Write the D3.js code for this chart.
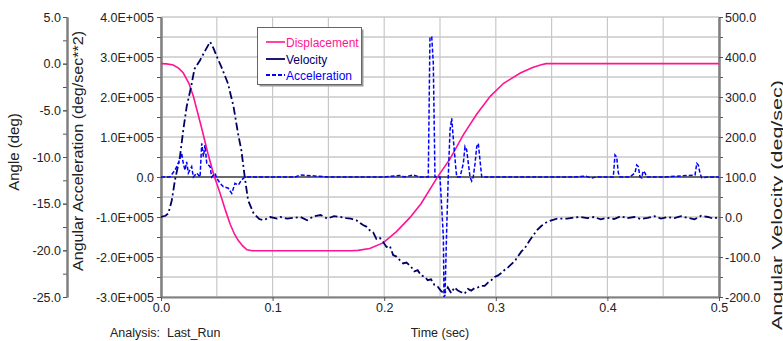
<!DOCTYPE html>
<html><head><meta charset="utf-8">
<script src="https://cdn.jsdelivr.net/npm/d3@7"></script>
<style>body{margin:0;background:#fff;} svg{display:block;font-family:"Liberation Sans",Arial,sans-serif;}</style>
</head><body><svg id="c" width="783" height="341"></svg>
<script>
// ---------- data ----------
const seriesNames = ["Displacement", "Velocity", "Acceleration"];

const dispTime = [0, 0.005, 0.011, 0.016, 0.020, 0.025, 0.029, 0.036, 0.042, 0.047, 0.053, 0.058, 0.062, 0.066, 0.069, 0.073, 0.077, 0.082, 0.10, 0.15, 0.170, 0.1765, 0.187, 0.199, 0.211, 0.223, 0.233, 0.248, 0.259, 0.271, 0.283, 0.295, 0.307, 0.322, 0.333, 0.340, 0.345, 0.40, 0.45, 0.5];
const dispAngle = [0, -0.02, -0.14, -0.5, -1.0, -2.1, -3.5, -6.7, -9.6, -11.8, -13.9, -15.8, -17.2, -18.3, -18.9, -19.5, -19.95, -20.05, -20.05, -20.05, -20.05, -20.0, -19.8, -19.2, -18.0, -16.5, -15.0, -12.1, -10.2, -7.6, -5.4, -3.5, -2.1, -1.0, -0.4, -0.15, 0.0, 0.0, 0.0, 0.0];

const velTime = [
  0, 0.004, 0.0066, 0.0097, 0.0125, 0.017, 0.020, 0.023, 0.027, 0.030,
  0.035, 0.039, 0.044, 0.047, 0.050, 0.054, 0.060, 0.065, 0.069, 0.072,
  0.075, 0.078, 0.083, 0.088, 0.092, 0.098, 0.104, 0.107, 0.113, 0.119,
  0.125, 0.131, 0.137, 0.143, 0.149, 0.155, 0.161, 0.166, 0.170, 0.175,
  0.181, 0.184, 0.187, 0.190, 0.193, 0.196, 0.199, 0.202, 0.205, 0.208,
  0.211, 0.214, 0.217, 0.220, 0.224, 0.227, 0.230, 0.233, 0.236, 0.239,
  0.242, 0.245, 0.248, 0.251, 0.254, 0.257, 0.260, 0.263, 0.266, 0.269,
  0.272, 0.275, 0.278, 0.281, 0.284, 0.287, 0.290, 0.293, 0.296, 0.299,
  0.302, 0.305, 0.308, 0.311, 0.314, 0.317, 0.320, 0.323, 0.326, 0.330,
  0.333, 0.337, 0.341, 0.346, 0.355, 0.364, 0.370, 0.376, 0.382, 0.388,
  0.394, 0.400, 0.406, 0.412, 0.418, 0.424, 0.430, 0.436, 0.442, 0.448,
  0.454, 0.460, 0.466, 0.472, 0.478, 0.484, 0.490, 0.495, 0.5];
const velValue = [
  0, 3, 9, 42, 92, 151, 218, 276, 326, 370,
  392, 413, 438, 422, 401, 376, 334, 276, 209, 167,
  101, 42, 9, -5, -8, 0, -4, 0, -4, -2,
  0, -8, 2, 5, -4, 2, 0, -3, -4, -8,
  -20, -24, -33, -38, -55, -52, -62, -75, -72, -95,
  -99, -108, -116, -114, -124, -136, -133, -146, -149, -158,
  -156, -170, -174, -185, -192, -176, -190, -176, -184, -188,
  -192, -180, -184, -178, -176, -172, -172, -164, -158, -150,
  -146, -140, -132, -126, -118, -110, -98, -86, -78, -60,
  -48, -33, -22, -12, -4, -4, -1, 0, -3, 0,
  -6, -2, -5, 2, -3, 0, -5, -2, 2, -4,
  0, -3, 2, -2, -6, 3, 0, -4, 0];

const accTime = [0, 0.008, 0.0125, 0.0155, 0.0185, 0.020, 0.0215, 0.023, 0.0245, 0.0275, 0.029, 0.032, 0.035, 0.0365, 0.038, 0.0394, 0.041, 0.044, 0.0454, 0.0484, 0.050, 0.053, 0.0558, 0.0603, 0.0634, 0.0663, 0.0693, 0.0723, 0.0753, 0.09, 0.12, 0.125, 0.15, 0.18, 0.20, 0.214, 0.218, 0.226, 0.232, 0.2395, 0.2410, 0.2426, 0.2440, 0.2455, 0.250, 0.253, 0.2536, 0.2545, 0.256, 0.2574, 0.259, 0.2605, 0.262, 0.2643, 0.265, 0.268, 0.2709, 0.2724, 0.2739, 0.2754, 0.2769, 0.2784, 0.2798, 0.2814, 0.2829, 0.2843, 0.2858, 0.2874, 0.30, 0.33, 0.37, 0.381, 0.3855, 0.39, 0.4053, 0.4068, 0.4083, 0.4098, 0.4113, 0.42, 0.4247, 0.4263, 0.4277, 0.4292, 0.4307, 0.4321, 0.4337, 0.4352, 0.45, 0.4785, 0.4801, 0.4815, 0.483, 0.4845, 0.49, 0.5];
const accValue = [0, 0, 17000, 34000, 59000, 34000, 17000, 38000, 10000, 26000, 0, 10000, 0, 84000, 51000, 80000, 34000, 26000, 0, 9000, -3000, -16000, -24000, -28000, -41000, -16000, -20000, -7000, 0, 0, 0, 5000, 0, 0, 0, 4000, 0, 5000, 0, 0, 350000, 350000, 284000, 0, 0, -150000, -300000, -295000, -130000, 0, 118000, 147000, 93000, 18000, 0, 0, 34000, 76000, 68000, 34000, 0, -10000, 0, 34000, 76000, 84000, 43000, 0, 0, 0, 0, 2000, -3000, 0, 0, 55000, 50000, 10000, 0, 0, 10000, 30000, 26000, 0, -2000, 15000, 10000, 0, 0, 5000, 34000, 30000, 9000, -2000, 0, 0];

const timeTicks = [0, 0.1, 0.2, 0.3, 0.4, 0.5];
const timeLabels = ["0.0", "0.1", "0.2", "0.3", "0.4", "0.5"];
const angleTicks = [5, 0, -5, -10, -15, -20, -25];
const angleLabels = ["5.0", "0.0", "-5.0", "-10.0", "-15.0", "-20.0", "-25.0"];
const accTicks = [400000, 300000, 200000, 100000, 0, -100000, -200000, -300000];
const accLabels = ["4.0E+005", "3.0E+005", "2.0E+005", "1.0E+005", "0.0", "-1.0E+005", "-2.0E+005", "-3.0E+005"];
const velTicks = [500, 400, 300, 200, 100, 0, -100, -200];
const velLabels = ["500.0", "400.0", "300.0", "200.0", "100.0", "0.0", "-100.0", "-200.0"];

// ---------- drawing ----------
const svg = d3.select("#c");
const L = 161, R = 719, T = 17, B = 297;
const x = d3.scaleLinear().domain([0, 0.5]).range([L, R]);
const yAcc = d3.scaleLinear().domain([-300000, 400000]).range([B, T]);
const yAng = d3.scaleLinear().domain([-25, 5]).range([B, T]);
const yVel = d3.scaleLinear().domain([-200, 500]).range([B, T]);

const colDisp = "#ff1493", colVel = "#000066", colAcc = "#0000ff";
const labelColor = "#222";

// grid
const g = svg.append("g");
g.selectAll(".hg").data(d3.range(-300000, 400001, 50000)).enter().append("line")
  .attr("x1", L).attr("x2", R).attr("y1", d => yAcc(d)).attr("y2", d => yAcc(d))
  .attr("stroke", "#d6d6d6").attr("stroke-width", 2);
g.selectAll(".vg").data(d3.range(0, 0.5001, 0.05)).enter().append("line")
  .attr("x1", d => x(d)).attr("x2", d => x(d)).attr("y1", T).attr("y2", B)
  .attr("stroke", "#c8c8c8").attr("stroke-width", 1.2);
g.append("line").attr("x1", L).attr("x2", R).attr("y1", yAcc(0)).attr("y2", yAcc(0))
  .attr("stroke", "#000").attr("stroke-width", 1);

function styleAxis(sel) {
  sel.select(".domain").attr("stroke", "#808080").attr("stroke-width", 2);
  sel.selectAll(".tick line").attr("stroke", "#555");
  sel.selectAll("text").attr("fill", labelColor).style("font-size", "12.5px")
    .style("font-family", "'Liberation Sans', Arial, sans-serif");
}

// angle axis (far left)
svg.append("g").attr("transform", "translate(67,0)")
  .call(d3.axisLeft(yAng).tickValues(d3.range(-25, 5.01, 2.5)).tickFormat("").tickSize(4).tickSizeOuter(0))
  .call(styleAxis);
svg.append("g").attr("transform", "translate(67,0)")
  .call(d3.axisLeft(yAng).tickValues(angleTicks).tickFormat((d, i) => angleLabels[i]).tickSize(4).tickSizeOuter(0).tickPadding(2))
  .call(styleAxis);

// acceleration axis
svg.append("g").attr("transform", `translate(${L},0)`)
  .call(d3.axisLeft(yAcc).tickValues(d3.range(-300000, 400001, 50000)).tickFormat("").tickSize(4).tickSizeOuter(0))
  .call(styleAxis);
svg.append("g").attr("transform", `translate(${L},0)`)
  .call(d3.axisLeft(yAcc).tickValues(accTicks).tickFormat((d, i) => accLabels[i]).tickSize(4).tickSizeOuter(0).tickPadding(3))
  .call(styleAxis);

// velocity axis (right)
svg.append("g").attr("transform", `translate(${R},0)`)
  .call(d3.axisRight(yVel).tickValues(d3.range(-200, 500.1, 50)).tickFormat("").tickSize(4).tickSizeOuter(0))
  .call(styleAxis);
svg.append("g").attr("transform", `translate(${R},0)`)
  .call(d3.axisRight(yVel).tickValues(velTicks).tickFormat((d, i) => velLabels[i]).tickSize(4).tickSizeOuter(0).tickPadding(2))
  .call(styleAxis);

// time axis
svg.append("g").attr("transform", `translate(0,${B})`)
  .call(d3.axisBottom(x).tickValues(timeTicks).tickFormat((d, i) => timeLabels[i]).tickSize(4).tickSizeOuter(0).tickPadding(2))
  .call(styleAxis);

// titles
const fontFam = "'Liberation Sans', Arial, sans-serif";
svg.append("text").attr("transform", "translate(19,152) rotate(-90)").attr("text-anchor", "middle")
  .style("font-size", "15px").style("font-family", fontFam).attr("fill", labelColor).text("Angle (deg)");
svg.append("text").attr("transform", "translate(83,151) rotate(-90)").attr("text-anchor", "middle")
  .attr("textLength", 240).attr("lengthAdjust", "spacingAndGlyphs")
  .style("font-size", "15px").style("font-family", fontFam).attr("fill", labelColor).text("Angular Acceleration (deg/sec**2)");
svg.append("text").attr("transform", "translate(782,205) rotate(-90)").attr("text-anchor", "middle")
  .attr("textLength", 250).attr("lengthAdjust", "spacingAndGlyphs")
  .style("font-size", "14px").style("font-family", fontFam).attr("fill", labelColor).text("Angular Velocity (deg/sec)");
svg.append("text").attr("x", 110).attr("y", 337).style("font-size", "12.5px").style("font-family", fontFam)
  .attr("fill", labelColor).attr("xml:space", "preserve").text("Analysis:  Last_Run");
svg.append("text").attr("x", 440).attr("y", 337).attr("text-anchor", "middle").style("font-size", "12.5px")
  .style("font-family", fontFam).attr("fill", labelColor).text("Time (sec)");

// series
svg.append("clipPath").attr("id", "clip").append("rect").attr("x", L).attr("y", T - 2).attr("width", R - L).attr("height", B - T + 4);
const plot = svg.append("g").attr("clip-path", "url(#clip)");

const lineDisp = d3.line().x((d, i) => x(dispTime[i])).y(d => yAng(d));
const lineVel = d3.line().x((d, i) => x(velTime[i])).y(d => yVel(d));
const lineAcc = d3.line().x((d, i) => x(accTime[i])).y(d => yAcc(d));

plot.append("path").attr("d", lineDisp(dispAngle)).attr("fill", "none").attr("stroke", colDisp).attr("stroke-width", 1.6);
plot.append("path").attr("d", lineVel(velValue)).attr("fill", "none").attr("stroke", colVel).attr("stroke-width", 1.8)
  .attr("stroke-dasharray", "8,3,2,3");
plot.append("path").attr("d", lineAcc(accValue)).attr("fill", "none").attr("stroke", colAcc).attr("stroke-width", 1.5)
  .attr("stroke-dasharray", "4,2");

// legend
const lg = svg.append("g");
lg.append("rect").attr("x", 259.5).attr("y", 29.5).attr("width", 104).attr("height", 57).attr("fill", "#999");
lg.append("rect").attr("x", 257.5).attr("y", 27.5).attr("width", 104).attr("height", 57).attr("fill", "#fff").attr("stroke", "#666");
const legCols = [colDisp, colVel, colAcc];
const legDash = [null, null, "4,2"];
const legY = [42, 59, 75];
seriesNames.forEach((n, i) => {
  lg.append("line").attr("x1", 266).attr("x2", 285).attr("y1", legY[i]).attr("y2", legY[i])
    .attr("stroke", legCols[i]).attr("stroke-width", i === 0 ? 1.6 : 1.8).attr("stroke-dasharray", legDash[i]);
  lg.append("text").attr("x", 286).attr("y", legY[i] + 4.5).style("font-size", "12px").style("font-family", fontFam)
    .attr("fill", legCols[i]).text(n);
});
</script></body></html>
